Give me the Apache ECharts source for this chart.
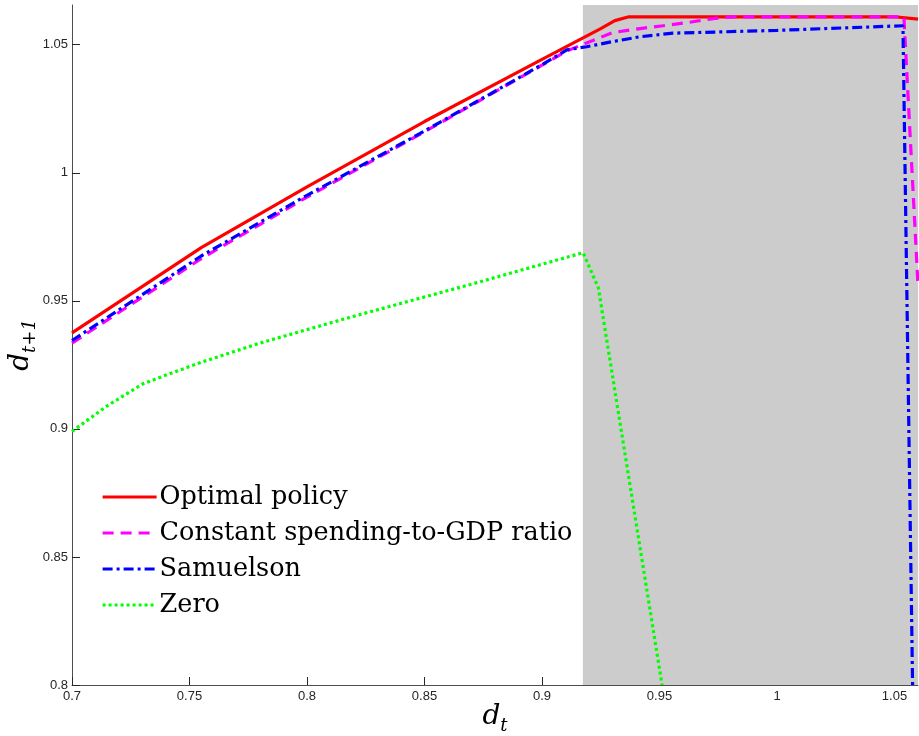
<!DOCTYPE html>
<html><head><meta charset="utf-8">
<script src="https://cdn.jsdelivr.net/npm/echarts@6/dist/echarts.min.js"></script>
<style>html,body{margin:0;padding:0;background:#fff}#c{width:919px;height:736px}</style>
</head><body><div id="c"></div>
<script>
const xTicks = [0.7, 0.75, 0.8, 0.85, 0.9, 0.95, 1, 1.05];
const yTicks = [0.8, 0.85, 0.9, 0.95, 1, 1.05];
const seriesNames = ['Optimal policy', 'Constant spending-to-GDP ratio', 'Samuelson', 'Zero'];

const optimalX = [0.70, 0.755, 0.80, 0.85, 0.90, 0.925, 0.931, 0.937, 1.05, 1.06];
const optimalY = [0.9375, 0.9708, 0.9945, 1.0200, 1.0443, 1.0563, 1.0594, 1.0609, 1.0609, 1.0600];

const constX = [0.70, 0.755, 0.80, 0.85, 0.90, 0.9106, 0.9204, 0.930, 0.9417, 0.9515, 0.9617, 0.9728, 0.9813, 1.054, 1.06];
const constY = [0.9335, 0.9665, 0.9905, 1.0160, 1.0420, 1.0476, 1.0512, 1.0547, 1.0563, 1.0574, 1.0586, 1.0602, 1.0609, 1.0609, 0.956];

const samX = [0.70, 0.755, 0.80, 0.85, 0.90, 0.9106, 0.919, 0.930, 0.9417, 0.9557, 1.0, 1.0536, 1.0577];
const samY = [0.9345, 0.9675, 0.9912, 1.0163, 1.0422, 1.0480, 1.0492, 1.0512, 1.0531, 1.0545, 1.0556, 1.0574, 0.80];

const zeroX = [0.70, 0.715, 0.73, 0.74, 0.755, 0.78, 0.82, 0.87, 0.9175, 0.924, 0.9511];
const zeroY = [0.899, 0.909, 0.9175, 0.921, 0.926, 0.9335, 0.944, 0.9565, 0.9688, 0.955, 0.80];

const shadeFrom = 0.9174, shadeTo = 1.06;

function pairs(xs, ys) { return xs.map((x, i) => [x, ys[i]]); }

const chart = echarts.init(document.getElementById('c'), null, {renderer: 'canvas'});
const axisColor = '#4d4d4d';
const labelStyle = {color: '#262626', fontFamily: 'Liberation Sans', fontSize: 13};
chart.setOption({
  animation: false,
  backgroundColor: '#fff',
  grid: {left: 72, right: 1, top: 5, bottom: 51, containLabel: false, outerBoundsMode: 'none'},
  legend: {
    orient: 'vertical', left: 101, top: 482, padding: 0,
    itemWidth: 54, itemHeight: 14, itemGap: 6,
    data: seriesNames,
    itemStyle: {opacity: 0},
    lineStyle: {width: 3.2},
    textStyle: {fontFamily: 'DejaVu Serif', fontSize: 25.5, color: '#000', lineHeight: 30, padding: [0, 0, 0, -2]},
  },
  xAxis: {
    type: 'value', min: 0.7, max: 1.06, interval: 0.05,
    axisLine: {show: true, onZero: false, lineStyle: {color: axisColor, width: 1}},
    axisTick: {show: true, inside: true, length: 8, lineStyle: {color: '#262626'}, customValues: xTicks},
    axisLabel: Object.assign({margin: 5, customValues: xTicks, formatter: v => String(v)}, labelStyle),
    splitLine: {show: false},
    name: '{d|d}{s|t}', nameLocation: 'middle', nameGap: 14, nameMoveOverlap: false,
    nameTextStyle: {rich: {
      d: {fontFamily: 'DejaVu Serif', fontStyle: 'italic', fontSize: 28, color: '#000'},
      s: {fontFamily: 'DejaVu Serif', fontStyle: 'italic', fontSize: 18, color: '#000', padding: [18, 0, 0, 0]}
    }}
  },
  yAxis: {
    type: 'value', min: 0.8, max: 1.0655, interval: 0.05,
    axisLine: {show: true, onZero: false, lineStyle: {color: axisColor, width: 1}},
    axisTick: {show: true, inside: true, length: 8, lineStyle: {color: '#262626'}, customValues: yTicks},
    axisLabel: Object.assign({margin: 4, customValues: yTicks, formatter: v => String(v)}, labelStyle),
    splitLine: {show: false},
    name: '{d|d}{s|t+1}', nameLocation: 'middle', nameGap: 33, nameRotate: 90, nameMoveOverlap: false,
    nameTextStyle: {rich: {
      d: {fontFamily: 'DejaVu Serif', fontStyle: 'italic', fontSize: 28, color: '#000'},
      s: {fontFamily: 'DejaVu Serif', fontStyle: 'italic', fontSize: 18, color: '#000', padding: [18, 0, 0, 0]}
    }}
  },
  series: [
    {
      name: seriesNames[0], type: 'line', data: pairs(optimalX, optimalY), showSymbol: false, symbol: 'none',
      lineStyle: {color: '#ff0000', width: 3.2}, itemStyle: {color: '#ff0000'},
      markArea: {silent: true, itemStyle: {color: '#cccccc'}, data: [[{xAxis: shadeFrom}, {xAxis: shadeTo}]]}
    },
    {
      name: seriesNames[1], type: 'line', data: pairs(constX, constY), showSymbol: false, symbol: 'none',
      lineStyle: {color: '#ff00ff', width: 3.2, type: [11, 7]}, itemStyle: {color: '#ff00ff'}
    },
    {
      name: seriesNames[2], type: 'line', data: pairs(samX, samY), showSymbol: false, symbol: 'none',
      lineStyle: {color: '#0000ff', width: 3.2, type: [10, 4, 3, 4]}, itemStyle: {color: '#0000ff'}
    },
    {
      name: seriesNames[3], type: 'line', data: pairs(zeroX, zeroY), showSymbol: false, symbol: 'none',
      lineStyle: {color: '#00ff00', width: 3.2, type: [3, 3]}, itemStyle: {color: '#00ff00'}
    }
  ]
});
</script></body></html>
